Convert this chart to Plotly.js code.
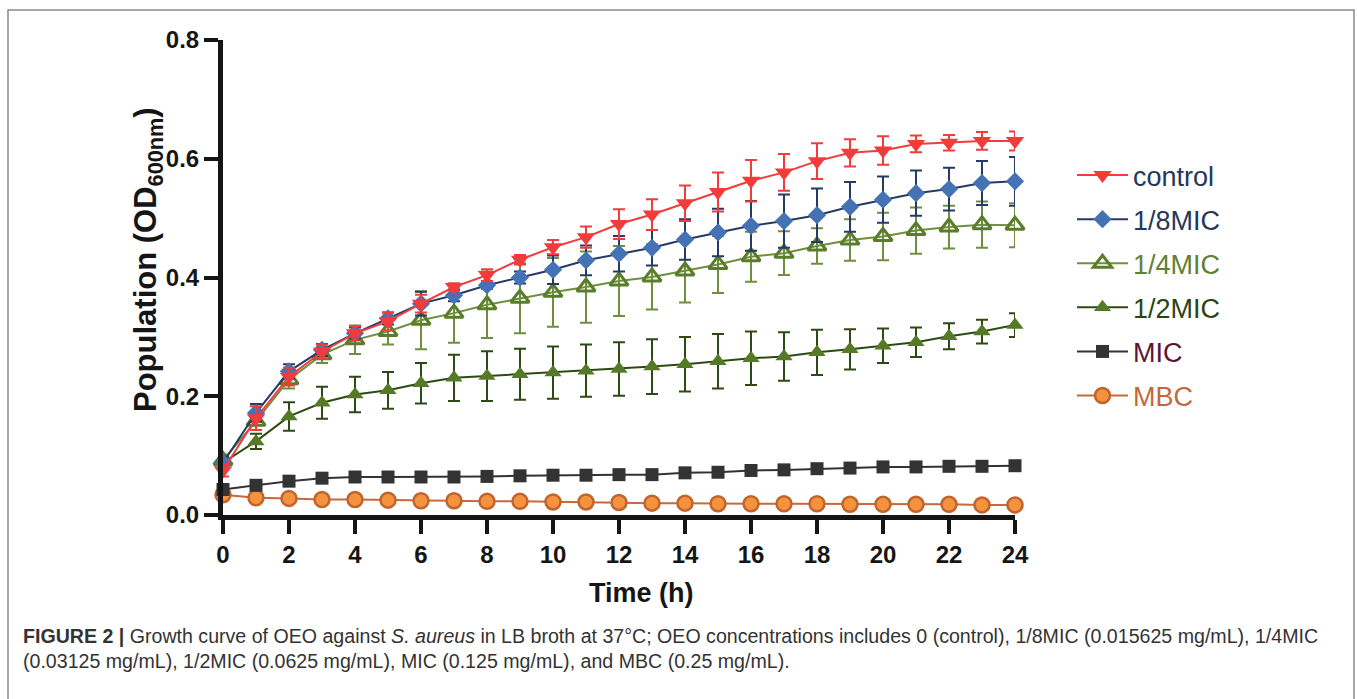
<!DOCTYPE html>
<html>
<head>
<meta charset="utf-8">
<script src="https://cdn.plot.ly/plotly-3.0.1.min.js"></script>
<style>
  html, body { margin: 0; padding: 0; background: #ffffff; }
  #chart { width: 1357px; height: 699px; }
</style>
</head>
<body>
<div id="chart"></div>
<script>
// ---- data ----
const hours = [0,1,2,3,4,5,6,7,8,9,10,11,12,13,14,15,16,17,18,19,20,21,22,23,24];

const controlMean = [0.075,0.163,0.233,0.275,0.306,0.326,0.356,0.384,0.404,0.430,0.451,0.468,0.490,0.506,0.525,0.544,0.563,0.577,0.596,0.610,0.614,0.625,0.627,0.630,0.630];
const controlErr  = [0.010,0.020,0.015,0.012,0.012,0.015,0.015,0.006,0.010,0.008,0.012,0.018,0.025,0.026,0.030,0.033,0.035,0.031,0.030,0.023,0.024,0.014,0.013,0.015,0.016];

const mic8Mean = [0.088,0.172,0.242,0.278,0.306,0.331,0.356,0.370,0.387,0.400,0.413,0.429,0.440,0.450,0.464,0.476,0.487,0.495,0.505,0.519,0.531,0.542,0.549,0.559,0.562];
const mic8Err  = [0.010,0.015,0.012,0.010,0.010,0.010,0.020,0.010,0.006,0.010,0.024,0.025,0.030,0.030,0.034,0.040,0.042,0.045,0.045,0.042,0.039,0.038,0.036,0.037,0.041];

const mic4Mean = [0.092,0.158,0.228,0.270,0.295,0.309,0.328,0.340,0.354,0.365,0.375,0.384,0.394,0.401,0.411,0.422,0.435,0.441,0.453,0.463,0.469,0.479,0.485,0.489,0.488];
const mic4Err  = [0.010,0.015,0.015,0.014,0.024,0.022,0.049,0.050,0.056,0.059,0.058,0.060,0.059,0.055,0.053,0.048,0.042,0.037,0.030,0.035,0.040,0.039,0.036,0.039,0.037];

const mic2Mean = [0.088,0.124,0.166,0.189,0.203,0.210,0.222,0.231,0.234,0.237,0.240,0.243,0.246,0.250,0.254,0.259,0.264,0.267,0.274,0.279,0.285,0.291,0.301,0.309,0.320];
const mic2Err  = [0.010,0.013,0.024,0.027,0.030,0.031,0.034,0.039,0.042,0.043,0.044,0.044,0.045,0.046,0.046,0.046,0.045,0.041,0.038,0.034,0.029,0.025,0.022,0.020,0.020];

const micMean = [0.043,0.050,0.057,0.062,0.064,0.064,0.064,0.064,0.065,0.066,0.067,0.067,0.068,0.068,0.071,0.072,0.075,0.076,0.078,0.079,0.081,0.081,0.082,0.082,0.083];

const mbcMean = [0.034,0.029,0.028,0.026,0.026,0.025,0.024,0.024,0.023,0.023,0.022,0.022,0.021,0.020,0.020,0.019,0.019,0.019,0.019,0.018,0.018,0.018,0.018,0.017,0.017];

const seriesNames = ["control","1/8MIC","1/4MIC","1/2MIC","MIC","MBC"];
const yTickVals = [0,0.2,0.4,0.6,0.8];
const xTickVals = [0,2,4,6,8,10,12,14,16,18,20,22,24];

// ---- styling ----
const FONT = "Liberation Sans, Arial, Helvetica, sans-serif";
const AX = "#151515";

function legendName(name, color) {
  return '<span style="color:' + color + '">' + name + '</span>';
}

function errBar(arr, color) {
  return {type: 'data', array: arr, symmetric: true, visible: true, color: color, thickness: 2, width: 6};
}

const traces = [
  {
    x: hours, y: mbcMean, type: 'scatter', mode: 'lines+markers',
    name: legendName(seriesNames[5], '#c4673a'), legendgroup: 'g6', legendrank: 6,
    line: {color: '#c9683a', width: 2},
    marker: {symbol: 'circle', size: 15, color: '#f5923e', line: {color: '#c0652e', width: 2.5}},
    cliponaxis: false
  },
  {
    x: hours, y: micMean, type: 'scatter', mode: 'lines+markers',
    name: legendName(seriesNames[4], '#5c1633'), legendgroup: 'g5', legendrank: 5,
    line: {color: '#333333', width: 2},
    marker: {symbol: 'square', size: 13, color: '#333333'},
    cliponaxis: false
  },
  {
    x: hours, y: mic2Mean, type: 'scatter', mode: 'lines+markers',
    name: legendName(seriesNames[3], '#2a4512'), legendgroup: 'g4', legendrank: 4,
    line: {color: '#2e4a14', width: 2},
    marker: {symbol: 'triangle-up', size: 15, color: '#557a27'},
    error_y: errBar(mic2Err, '#2e4a14'),
    cliponaxis: false
  },
  {
    x: hours, y: mic4Mean, type: 'scatter', mode: 'lines+markers',
    name: legendName(seriesNames[2], '#5f8232'), legendgroup: 'g3', legendrank: 3,
    line: {color: '#6f8f3f', width: 2},
    marker: {symbol: 'triangle-up-open', size: 16, color: '#5a7d2a', line: {width: 3}},
    error_y: errBar(mic4Err, '#6f8f3f'),
    cliponaxis: false
  },
  {
    x: hours, y: mic8Mean, type: 'scatter', mode: 'lines+markers',
    name: legendName(seriesNames[1], '#26375a'), legendgroup: 'g2', legendrank: 2,
    line: {color: '#253a64', width: 2},
    marker: {symbol: 'diamond', size: 14, color: '#4472b4'},
    error_y: errBar(mic8Err, '#253a64'),
    cliponaxis: false
  },
  {
    x: hours, y: controlMean, type: 'scatter', mode: 'lines+markers',
    name: legendName(seriesNames[0], '#26375a'), legendgroup: 'g1', legendrank: 1,
    line: {color: '#f23b3b', width: 2},
    marker: {symbol: 'triangle-down', size: 16, color: '#f23b3b'},
    error_y: errBar(controlErr, '#f23b3b'),
    cliponaxis: false
  }
];

const L = 223, R = 342, T = 40, B = 184;
const W = 1357, H = 699;
const pw = W - L - R, ph = H - T - B;
function px(xp) { return (xp - L) / pw; }
function py(yp) { return (H - B - yp) / ph; }

const layout = {
  width: W, height: H,
  margin: {l: L, r: R, t: T, b: B, pad: 0},
  paper_bgcolor: '#ffffff',
  plot_bgcolor: '#ffffff',
  font: {family: FONT, color: '#111111'},
  showlegend: true,
  legend: {
    x: px(1072), y: py(151), xanchor: 'left', yanchor: 'top',
    traceorder: 'grouped',
    tracegroupgap: 6,
    font: {family: FONT, size: 27},
    itemwidth: 51,
    bgcolor: 'rgba(0,0,0,0)'
  },
  xaxis: {
    range: [0, 24],
    tickvals: xTickVals,
    ticks: 'outside', ticklen: 14, tickwidth: 4, tickcolor: AX,
    showline: true, linewidth: 5, linecolor: AX,
    showgrid: false, zeroline: false,
    tickfont: {family: FONT, size: 24, weight: 'bold', color: AX},
    fixedrange: true
  },
  yaxis: {
    range: [0, 0.8],
    tickvals: yTickVals,
    tickformat: '.1f',
    ticks: 'outside', ticklen: 14, tickwidth: 4, tickcolor: AX,
    showline: true, linewidth: 5, linecolor: AX,
    showgrid: false, zeroline: false,
    tickfont: {family: FONT, size: 24, weight: 'bold', color: AX},
    fixedrange: true
  },
  annotations: [
    {
      text: 'Time (h)', xref: 'paper', yref: 'paper',
      x: px(641), y: py(593), xanchor: 'center', yanchor: 'middle',
      showarrow: false,
      font: {family: FONT, size: 27, weight: 'bold', color: AX}
    },
    {
      text: 'Population (OD<sub>600nm</sub>)', xref: 'paper', yref: 'paper',
      x: px(148), y: py(260), xanchor: 'center', yanchor: 'middle',
      textangle: -90, showarrow: false,
      font: {family: FONT, size: 31, weight: 'bold', color: AX}
    },
    {
      text: '<b>FIGURE 2 |</b> Growth curve of OEO against <i>S. aureus</i> in LB broth at 37°C; OEO concentrations includes 0 (control), 1/8MIC (0.015625 mg/mL), 1/4MIC<br>(0.03125 mg/mL), 1/2MIC (0.0625 mg/mL), MIC (0.125 mg/mL), and MBC (0.25 mg/mL).',
      xref: 'paper', yref: 'paper',
      x: px(21), y: py(623), xanchor: 'left', yanchor: 'top',
      align: 'left', showarrow: false,
      font: {family: FONT, size: 19.6, color: '#333333'}
    }
  ],
  shapes: [
    {
      type: 'rect', xref: 'paper', yref: 'paper',
      x0: px(8), x1: px(1354), y0: py(720), y1: py(10),
      line: {color: '#8a8a8a', width: 1.5}, fillcolor: 'rgba(0,0,0,0)', layer: 'below'
    }
  ]
};

Plotly.newPlot('chart', traces, layout, {displayModeBar: false, staticPlot: true});
</script>
</body>
</html>
